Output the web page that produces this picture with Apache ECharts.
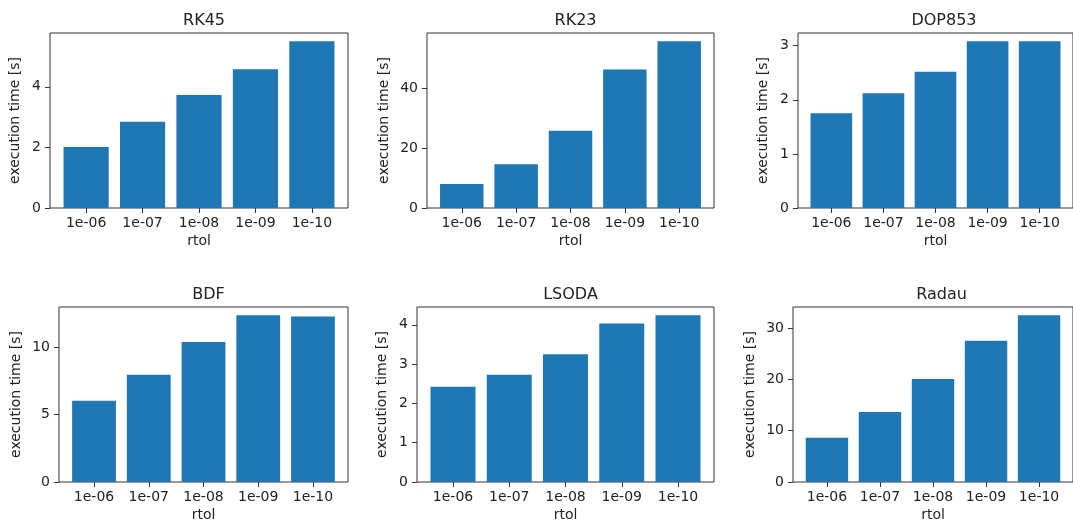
<!DOCTYPE html>
<html>
<head>
<meta charset="utf-8">
<script src="https://cdn.jsdelivr.net/npm/echarts@6/dist/echarts.min.js"></script>
<style>
  html, body { margin: 0; padding: 0; background: #fff; }
  #chart { width: 1073px; height: 526px; }
</style>
</head>
<body>
<div id="chart"></div>
<script>
// Execution time of scipy ODE solvers for decreasing relative tolerance
const rtolLabels = ['1e-06', '1e-07', '1e-08', '1e-09', '1e-10'];
const solverNames = ['RK45', 'RK23', 'DOP853', 'BDF', 'LSODA', 'Radau'];

const timesRK45   = [2.01, 2.85, 3.73, 4.58, 5.50];
const timesRK23   = [8.0, 14.6, 25.8, 46.2, 55.6];
const timesDOP853 = [1.75, 2.12, 2.52, 3.08, 3.08];
const timesBDF    = [6.02, 7.95, 10.37, 12.35, 12.27];
const timesLSODA  = [2.42, 2.73, 3.25, 4.03, 4.24];
const timesRadau  = [8.64, 13.64, 20.06, 27.53, 32.47];

const yTicksRK45   = [0, 2, 4];
const yTicksRK23   = [0, 20, 40];
const yTicksDOP853 = [0, 1, 2, 3];
const yTicksBDF    = [0, 5, 10];
const yTicksLSODA  = [0, 1, 2, 3, 4];
const yTicksRadau  = [0, 10, 20, 30];

const panelTimes = [timesRK45, timesRK23, timesDOP853, timesBDF, timesLSODA, timesRadau];
const panelTicks = [yTicksRK45, yTicksRK23, yTicksDOP853, yTicksBDF, yTicksLSODA, yTicksRadau];

// Axes boxes in pixels: [left, top, width, height]
const boxes = [
  [50, 33, 298, 175],
  [427, 33, 287, 175],
  [798, 33, 282, 175],
  [59, 307, 289, 175],
  [417, 307, 297, 175],
  [793, 307, 287, 175]
];
// Distance from the frame to the rotated y-axis title
const yNameGaps = [28, 36, 28, 36, 28, 36];

const FONT = 'DejaVu Sans';
const TEXT = '#222';
const FRAME = '#333';
const BAR = '#1f77b4';
const xPositions = rtolLabels.map((_, i) => i);

const option = {
  animation: false,
  backgroundColor: '#fff',
  title: [], grid: [], xAxis: [], yAxis: [], series: []
};

boxes.forEach((b, i) => {
  const [left, top, width, height] = b;
  const values = panelTimes[i];
  option.title.push({
    text: solverNames[i],
    left: left + width / 2,
    top: top - 25,
    textAlign: 'center',
    textStyle: { fontFamily: FONT, fontSize: 16, fontWeight: 'normal', color: TEXT }
  });
  option.grid.push({
    left: left, top: top, width: width, height: height,
    show: true, borderColor: FRAME, borderWidth: 1, backgroundColor: 'transparent',
    containLabel: false
  });
  option.xAxis.push({
    type: 'value', gridIndex: i,
    min: -0.64, max: rtolLabels.length - 1 + 0.64,
    splitLine: { show: false },
    axisLine: { show: false, onZero: false },
    axisTick: { show: true, customValues: xPositions, length: 5, lineStyle: { color: FRAME, width: 1 } },
    axisLabel: {
      customValues: xPositions,
      formatter: v => rtolLabels[Math.round(v)],
      margin: 8, fontFamily: FONT, fontSize: 14, color: TEXT
    },
    name: 'rtol', nameLocation: 'middle', nameGap: 26,
    nameTextStyle: { fontFamily: FONT, fontSize: 14, color: TEXT }
  });
  option.yAxis.push({
    type: 'value', gridIndex: i,
    min: 0, max: Math.max(...values) * 1.05,
    splitLine: { show: false },
    axisLine: { show: false, onZero: false },
    axisTick: { show: true, customValues: panelTicks[i], length: 5, lineStyle: { color: FRAME, width: 1 } },
    axisLabel: {
      customValues: panelTicks[i],
      margin: 9, fontFamily: FONT, fontSize: 14, color: TEXT
    },
    name: 'execution time [s]', nameLocation: 'middle', nameGap: yNameGaps[i],
    nameTextStyle: { fontFamily: FONT, fontSize: 14, color: TEXT }
  });
  option.series.push({
    type: 'bar', xAxisIndex: i, yAxisIndex: i,
    data: values.map((v, j) => [xPositions[j], v]),
    barWidth: '80%',
    itemStyle: { color: BAR },
    silent: true
  });
});

const chart = echarts.init(document.getElementById('chart'), null, { renderer: 'canvas' });
chart.setOption(option);
</script>
</body>
</html>
